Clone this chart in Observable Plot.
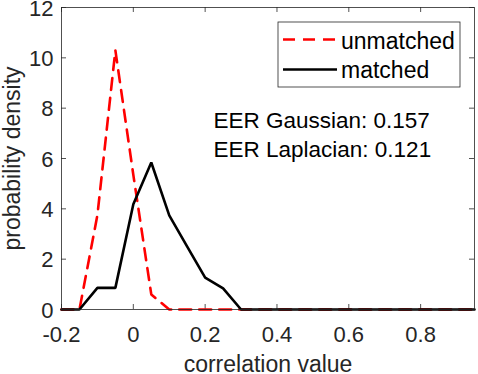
<!DOCTYPE html>
<html>
<head>
<meta charset="utf-8">
<script src="https://cdn.jsdelivr.net/npm/d3@7"></script>
<script src="https://cdn.jsdelivr.net/npm/@observablehq/plot@0.6"></script>
<style>
  html, body { margin: 0; padding: 0; background: #fff; }
  #chart { width: 478px; height: 374px; }
</style>
</head>
<body>
<div id="chart"></div>
<script>
// Bin centers (correlation value)
const xBins = [-0.2, -0.15, -0.1, -0.05, 0, 0.05, 0.1, 0.15, 0.2, 0.25, 0.3, 0.35,
               0.4, 0.45, 0.5, 0.55, 0.6, 0.65, 0.7, 0.75, 0.8, 0.85, 0.9, 0.95];
// Probability density, unmatched pairs
const unmatched = [0, 0, 3.75, 10.3, 5.35, 0.6, 0, 0, 0, 0, 0, 0,
                   0, 0, 0, 0, 0, 0, 0, 0, 0, 0, 0, 0];
// Probability density, matched pairs
const matched = [0, 0, 0.86, 0.86, 4.18, 5.84, 3.74, 2.5, 1.27, 0.84, 0, 0,
                 0, 0, 0, 0, 0, 0, 0, 0, 0, 0, 0, 0];
const xTicks = [-0.2, 0, 0.2, 0.4, 0.6, 0.8];
const yTicks = [0, 2, 4, 6, 8, 10, 12];
const seriesNames = ["unmatched", "matched"];
const annotations = ["EER Gaussian: 0.157", "EER Laplacian: 0.121"];
const xLabel = "correlation value";
const yLabel = "probability density";

const unmatchedData = xBins.map((x, i) => ({x, y: unmatched[i]}));
const matchedData = xBins.map((x, i) => ({x, y: matched[i]}));

const W = 478, H = 374;
const mL = 61, mR = 4, mT = 7, mB = 65;
const frameW = W - mL - mR, frameH = H - mT - mB;
const tickLen = 5;
const axisColor = "#262626";
const font = "'Liberation Sans', Arial, Helvetica, sans-serif";

const chart = Plot.plot({
  width: W,
  height: H,
  marginLeft: mL,
  marginRight: mR,
  marginTop: mT,
  marginBottom: mB,
  style: {fontFamily: font, color: axisColor, background: "white", overflow: "visible"},
  x: {domain: [-0.2, 0.95]},
  y: {domain: [0, 12]},
  marks: [
    // tick labels
    Plot.axisX({ticks: xTicks, tickSize: 0, tickPadding: 17, tickFormat: d => String(d), fontSize: 22, label: null}),
    Plot.axisY({ticks: yTicks, tickSize: 0, tickPadding: 8, tickFormat: d => String(d), fontSize: 22, dy: 1, label: null}),
    // inward ticks on all four sides
    Plot.tickX(xTicks, {x: d => d, insetTop: frameH - tickLen, stroke: axisColor, strokeWidth: 0.8}),
    Plot.tickX(xTicks, {x: d => d, insetBottom: frameH - tickLen, stroke: axisColor, strokeWidth: 0.8}),
    Plot.tickY(yTicks, {y: d => d, insetRight: frameW - tickLen, stroke: axisColor, strokeWidth: 0.8}),
    Plot.tickY(yTicks, {y: d => d, insetLeft: frameW - tickLen, stroke: axisColor, strokeWidth: 0.8}),
    // series
    Plot.line(unmatchedData, {x: "x", y: "y", stroke: "#ff0000", strokeWidth: 2.6, strokeDasharray: "12,8", strokeLinejoin: "miter"}),
    Plot.line(matchedData, {x: "x", y: "y", stroke: "#000000", strokeWidth: 2.6, strokeLinejoin: "miter"}),
    Plot.frame({stroke: axisColor, strokeWidth: 0.8}),
    // annotations
    Plot.text([annotations[0]], {text: d => d, frameAnchor: "top-left", dx: 152, dy: 120, textAnchor: "start", lineAnchor: "bottom", fontSize: 22.5, fill: "#000"}),
    Plot.text([annotations[1]], {text: d => d, frameAnchor: "top-left", dx: 152, dy: 149, textAnchor: "start", lineAnchor: "bottom", fontSize: 22.5, fill: "#000"}),
    // axis labels
    Plot.text([xLabel], {text: d => d, frameAnchor: "bottom", dy: 62, textAnchor: "middle", lineAnchor: "bottom", fontSize: 23, fill: axisColor}),
    Plot.text([yLabel], {text: d => d, frameAnchor: "left", dx: -42, rotate: -90, textAnchor: "middle", lineAnchor: "bottom", fontSize: 23, fill: axisColor})
  ]
});

// Legend box drawn inside the plot svg
const svg = d3.select(chart);
const lg = svg.append("g").attr("font-family", font).attr("text-anchor", "start");
lg.append("rect").attr("x", 278).attr("y", 22).attr("width", 182).attr("height", 65)
  .attr("fill", "white").attr("stroke", axisColor).attr("stroke-width", 0.8);
const legendItems = [
  {name: seriesNames[0], stroke: "#ff0000", dash: "12,8", ly: 39.5, ty: 48.5},
  {name: seriesNames[1], stroke: "#000000", dash: null, ly: 69.5, ty: 77.5}
];
for (const it of legendItems) {
  lg.append("line").attr("x1", 283).attr("x2", 337).attr("y1", it.ly).attr("y2", it.ly)
    .attr("stroke", it.stroke).attr("stroke-width", 2.6)
    .attr("stroke-dasharray", it.dash);
  lg.append("text").attr("x", 341).attr("y", it.ty).attr("text-anchor", "start")
    .attr("font-size", 23).attr("fill", "#000").text(it.name);
}

document.getElementById("chart").appendChild(chart);
</script>
</body>
</html>
